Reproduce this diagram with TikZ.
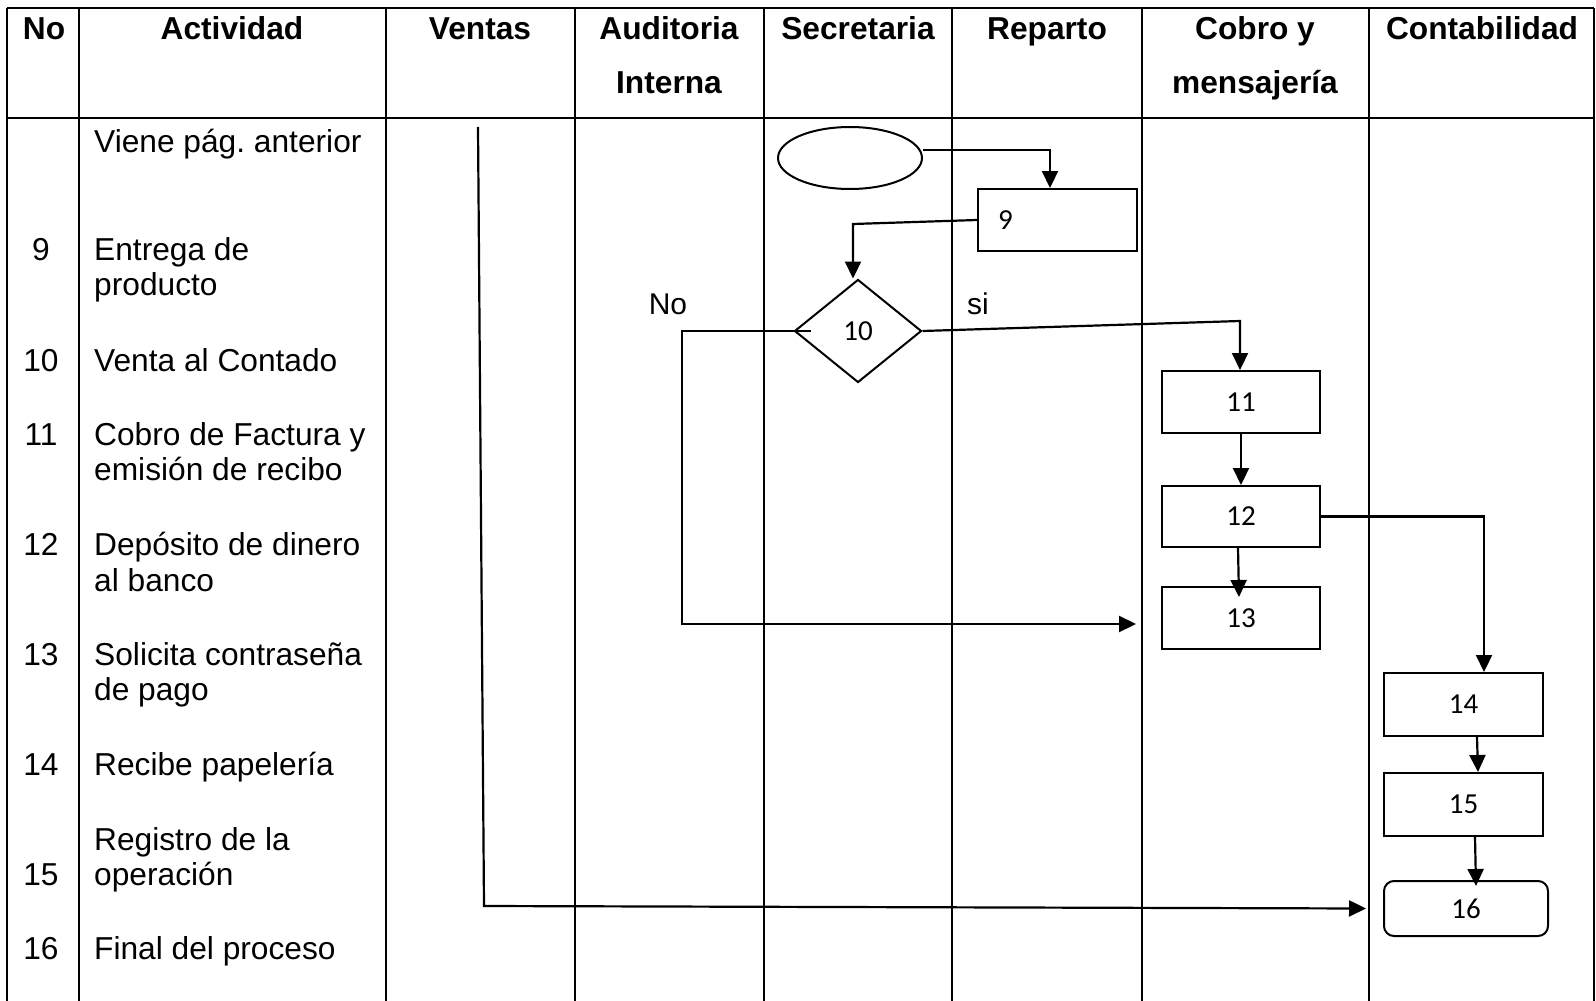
\documentclass[tikz,border=0pt]{standalone}
\usepackage{fontspec}
\setmainfont{Liberation Sans}
\newfontfamily\boxfont{Carlito}
\usetikzlibrary{arrows.meta,shapes.geometric}
\frenchspacing
\begin{document}
\begin{tikzpicture}[x=1pt,y=-1pt,
  grid/.style={line width=2.5pt},
  hdr/.style={font=\fontsize{31.7}{36}\selectfont\bfseries, anchor=base, inner sep=0},
  txt/.style={font=\fontsize{31.7}{36}\selectfont, anchor=base west, inner sep=0},
  num/.style={font=\fontsize{31.7}{36}\selectfont, anchor=base, inner sep=0},
  procbox/.style={draw, line width=2pt, minimum width=158pt, minimum height=62pt, inner sep=0, font=\boxfont\fontsize{29}{33}\selectfont},
  arr/.style={line width=2.2pt, -{Triangle[length=17pt,width=16pt]}},
  lbl/.style={font=\fontsize{30}{34}\selectfont, anchor=base, inner sep=0}
]
\useasboundingbox (0,0) rectangle (1596,1001);
% table
\draw[grid] (7,8) -- (1594,8);
\draw[grid] (7,118) -- (1594,118);
\foreach \x in {7,79,386,575,764,952,1142,1369,1594} \draw[grid] (\x,8) -- (\x,1001);
% header
\node[hdr] (hNo) at (44,39) {No};
\node[hdr] (hAct) at (232,39) {Actividad};
\node[hdr] (hVen) at (480,39) {Ventas};
\node[hdr] (hAud1) at (669,39) {Auditoria};
\node[hdr] (hAud2) at (669,93) {Interna};
\node[hdr] (hSec) at (858,39) {Secretaria};
\node[hdr] (hRep) at (1047,39) {Reparto};
\node[hdr] (hCob1) at (1255,39) {Cobro y};
\node[hdr] (hCob2) at (1255,93) {mensajería};
\node[hdr] (hCon) at (1482,39) {Contabilidad};
% body
\node[txt] (t0) at (94,152) {Viene pág. anterior};
\node[num] (n9) at (41,260) {9};
\node[txt] (t9a) at (94,260) {Entrega de};
\node[txt] (t9b) at (94,295) {producto};
\node[num] (n10) at (41,371) {10};
\node[txt] (t10) at (94,371) {Venta al Contado};
\node[num] (n11) at (41,445) {11};
\node[txt] (t11a) at (94,445) {Cobro de Factura y};
\node[txt] (t11b) at (94,480) {emisión de recibo};
\node[num] (n12) at (41,555) {12};
\node[txt] (t12a) at (94,555) {Depósito de dinero};
\node[txt] (t12b) at (94,591) {al banco};
\node[num] (n13) at (41,665) {13};
\node[txt] (t13a) at (94,665) {Solicita contraseña};
\node[txt] (t13b) at (94,700) {de pago};
\node[num] (n14) at (41,775) {14};
\node[txt] (t14) at (94,775) {Recibe papelería};
\node[txt] (t15a) at (94,850) {Registro de la};
\node[num] (n15) at (41,885) {15};
\node[txt] (t15b) at (94,885) {operación};
\node[num] (n16) at (41,959) {16};
\node[txt] (t16) at (94,959) {Final del proceso};
% flow shapes
\node[draw, ellipse, line width=2pt, minimum width=144pt, minimum height=62pt, inner sep=0] (el) at (850,158) {};
\node[procbox, minimum width=159pt, text width=119pt, align=left, inner xsep=20pt] (b9) at (1057.5,220) {9};
\node[draw, diamond, aspect=1.23, line width=2pt, minimum width=127pt, minimum height=103pt, inner sep=0, font=\boxfont\fontsize{29}{33}\selectfont] (d10) at (858,331) {10};
\node[procbox] (b11) at (1241,402) {11};
\node[procbox, minimum height=61pt] (b12) at (1241,516.5) {12};
\node[procbox] (b13) at (1241,618) {13};
\node[procbox, minimum width=159pt, minimum height=63pt] (b14) at (1463.5,704.5) {14};
\node[procbox, minimum width=159pt, minimum height=63pt] (b15) at (1463.5,804.5) {15};
\node[procbox, minimum width=164pt, minimum height=55pt, rounded corners=10pt] (b16) at (1466,908.5) {16};
\node[lbl] (lNo) at (668,314) {No};
\node[lbl] (lsi) at (978,314) {si};
% connectors
\draw[arr] ([yshift=8pt]el.east) -| ([xshift=-7.5pt]b9.north);
\coordinate (k1) at (853,224);
\draw[arr] (b9.west) -- (k1) -- (k1 |- d10.north);
\coordinate (k2) at (682,331);
\draw[arr] ([xshift=17pt]d10.west) -- (k2) |- ([xshift=-25pt,yshift=-6pt]b13.west);
\coordinate (k3) at (1240,321);
\draw[arr] (d10.east) -- (k3) -- (k3 |- b11.north);
\draw[arr] (b11.south) -- (b12.north);
\draw[arr] ([xshift=-3pt]b12.south) -- ([xshift=-2pt,yshift=-11pt]b13.north);
\draw[arr] (b12.east) -| ([xshift=20.5pt]b14.north);
\draw[arr] ([xshift=13.5pt]b14.south) -- ([xshift=14.5pt]b15.north);
\draw[arr] ([xshift=11.5pt]b15.south) -- ([xshift=10pt,yshift=-6pt]b16.north);
\coordinate (v1) at (478,127);
\coordinate (v2) at (484,906);
\draw[arr] (v1) -- (v2) -- ([xshift=-17pt]b16.west);
\end{tikzpicture}
\end{document}
